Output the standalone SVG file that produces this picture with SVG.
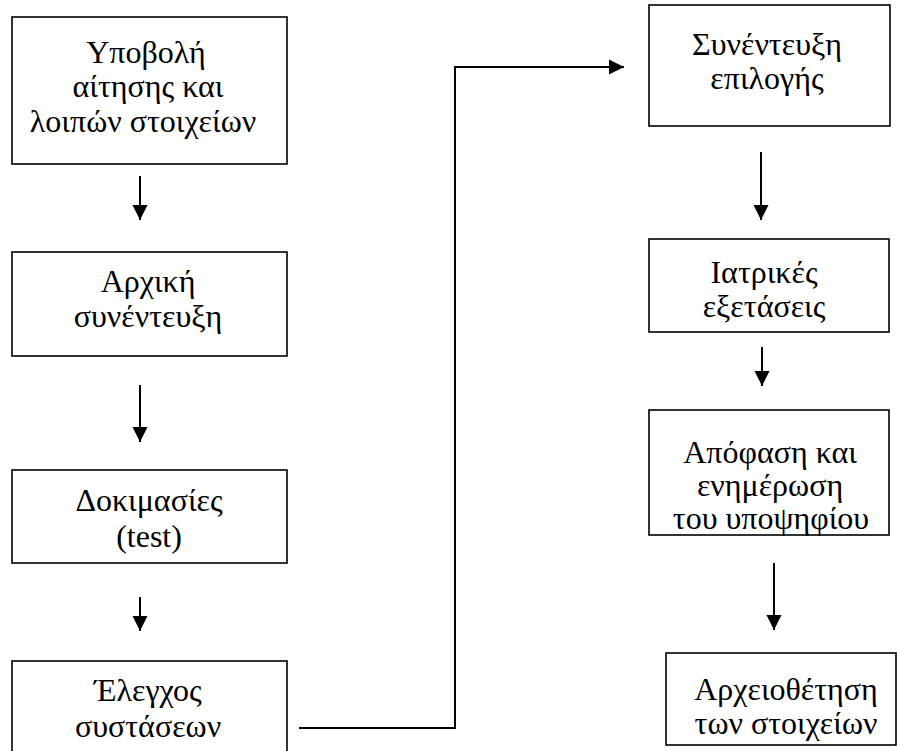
<svg xmlns="http://www.w3.org/2000/svg" width="897" height="751" viewBox="0 0 897 751">
<defs>
<marker id="ah" markerUnits="userSpaceOnUse" markerWidth="16" markerHeight="16" viewBox="0 0 16 16" refX="15" refY="8" orient="auto">
<path d="M0,0.5 L15,8 L0,15.5 z" fill="#000"/>
</marker>
<style>
.box{fill:#fff;stroke:#000;stroke-width:1.6}
.t{font-family:"Liberation Serif","Times New Roman",serif;font-size:32px;fill:#000;text-anchor:middle}
.c{fill:none;stroke:#000;stroke-width:2;marker-end:url(#ah)}
</style>
</defs>
<rect width="897" height="751" fill="#fff"/>
<g id="connectors">
<line class="c" x1="140" y1="176" x2="140" y2="220"/>
<line class="c" x1="140" y1="385" x2="140" y2="442"/>
<line class="c" x1="140" y1="597" x2="140" y2="631"/>
<path class="c" d="M299,728 H455 V67 H624"/>
<line class="c" x1="761" y1="152" x2="761" y2="220"/>
<line class="c" x1="762" y1="347" x2="762" y2="386"/>
<line class="c" x1="774" y1="563" x2="774" y2="630"/>
</g>
<g id="n1">
<rect class="box" x="12" y="17" width="275" height="147"/>
<text class="t" x="146" y="63">Υποβολή</text>
<text class="t" x="148" y="97">αίτησης και</text>
<text class="t" x="143" y="132">λοιπών στοιχείων</text>
</g>
<g id="n2">
<rect class="box" x="12" y="252" width="275" height="104"/>
<text class="t" x="148" y="292">Αρχική</text>
<text class="t" x="148" y="327">συνέντευξη</text>
</g>
<g id="n3">
<rect class="box" x="12" y="470" width="275" height="93"/>
<text class="t" x="149" y="511">Δοκιμασίες</text>
<text class="t" x="149" y="547">(test)</text>
</g>
<g id="n4">
<rect class="box" x="12" y="661" width="275" height="100"/>
<text class="t" x="148" y="701">Έλεγχος</text>
<text class="t" x="148" y="737">συστάσεων</text>
</g>
<g id="n5">
<rect class="box" x="649" y="5" width="241" height="121"/>
<text class="t" x="767" y="55">Συνέντευξη</text>
<text class="t" x="767" y="89">επιλογής</text>
</g>
<g id="n6">
<rect class="box" x="649" y="239" width="240" height="93"/>
<text class="t" x="764" y="283">Ιατρικές</text>
<text class="t" x="764" y="317">εξετάσεις</text>
</g>
<g id="n7">
<rect class="box" x="649" y="410" width="240" height="125"/>
<text class="t" x="770" y="463">Απόφαση και</text>
<text class="t" x="770" y="496">ενημέρωση</text>
<text class="t" x="771" y="529">του υποψηφίου</text>
</g>
<g id="n8">
<rect class="box" x="666" y="653" width="230" height="92"/>
<text class="t" x="786" y="700">Αρχειοθέτηση</text>
<text class="t" x="786" y="734">των στοιχείων</text>
</g>
</svg>
